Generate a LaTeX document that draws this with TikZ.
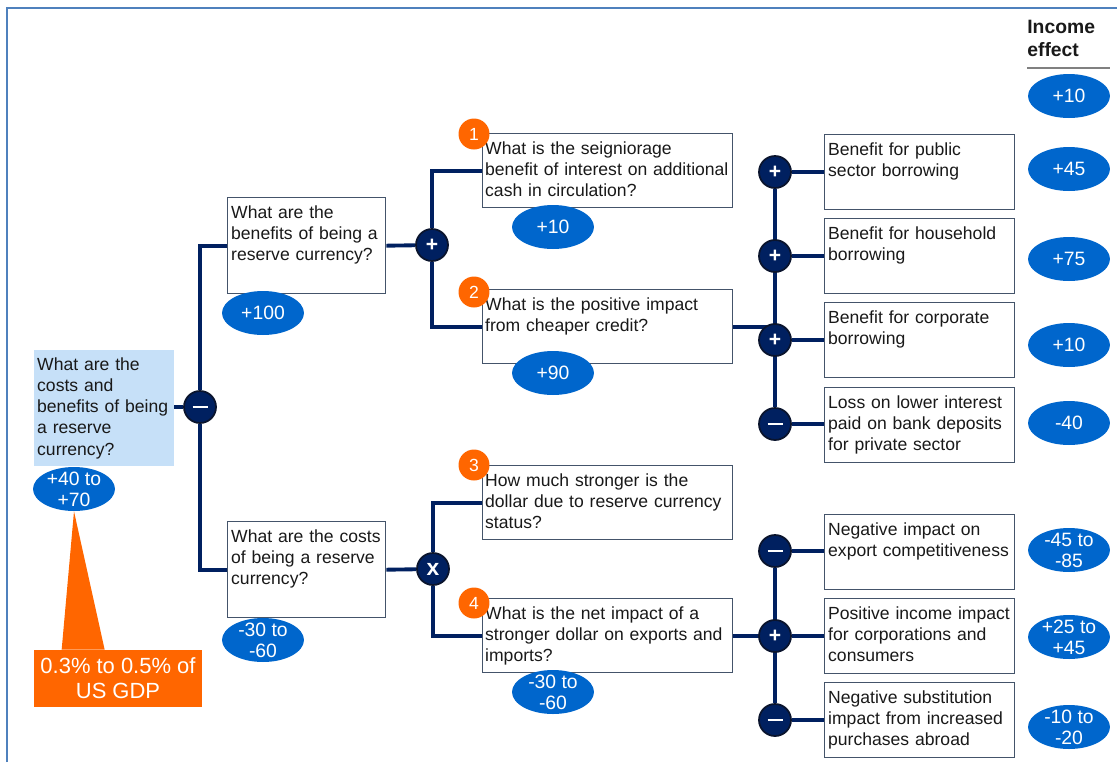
\documentclass[tikz,border=0pt]{standalone}
\usepackage{fontspec}
\setmainfont{Liberation Sans}
\usetikzlibrary{shapes.geometric, backgrounds, calc}

\definecolor{navy}{RGB}{0,32,96}
\definecolor{opline}{RGB}{10,20,45}
\definecolor{boxline}{RGB}{68,84,106}
\definecolor{valblue}{RGB}{0,102,204}
\definecolor{accent}{RGB}{255,102,0}
\definecolor{rootfill}{RGB}{198,224,248}
\definecolor{frameblue}{RGB}{79,129,189}
\definecolor{txt}{RGB}{25,25,25}

\newcommand{\opminus}{\rule[-0.6pt]{0.3cm}{1.3pt}}

\tikzset{
  qbox/.style={draw=boxline, line width=0.8pt, fill=white, anchor=north west,
    align=left, text=txt, font=\fontsize{10}{12}\selectfont,
    inner xsep=0.07cm, inner ysep=0.12cm, text height=0.3cm},
  rootbox/.style={qbox, draw=none, fill=rootfill, text width=2.66cm, text depth=1.78cm},
  leftbox/.style={qbox, text width=3.02cm, text depth=1.38cm},
  midbox/.style={qbox, inner xsep=0.05cm, text width=4.9cm, text depth=0.94cm},
  rightbox/.style={qbox, text width=3.66cm, text depth=0.96cm},
  op/.style={circle, fill=navy, draw=opline, line width=1pt, minimum size=0.64cm,
    inner sep=0pt, text=white, font=\bfseries\fontsize{12}{12}\selectfont},
  num/.style={circle, fill=accent, minimum size=0.62cm, inner sep=0pt,
    text=white, font=\fontsize{10}{10}\selectfont},
  val/.style={ellipse, fill=valblue, minimum width=1.64cm, minimum height=0.88cm, inner sep=0pt},
  valtext/.style={text=white, font=\fontsize{11}{12}\selectfont, align=center, inner sep=0pt},
  link/.style={draw=navy, line width=2.2pt},
  gdpbox/.style={fill=accent, text=white, font=\fontsize{12.5}{14.2}\selectfont, align=center,
    minimum width=3.36cm, minimum height=1.14cm, inner sep=0pt},
  hdr/.style={anchor=north west, align=left, inner sep=0pt, text=txt,
    font=\bfseries\fontsize{11}{13}\selectfont}
}

\begin{document}
\begin{tikzpicture}[x=0.02cm, y=-0.02cm]
  \useasboundingbox (0,0) rectangle (1117,762);
  % frame
  \draw[frameblue, line width=1.2pt] (7,762) -- (7,8) -- (1117,8);

  % income effect column
  \node[hdr] (hdr) at (1027,20) {Income\\effect};
  \draw[gray, line width=1.2pt] (1027,68) -- (1110,68);
  \node[val, label={[valtext]center:+10}] (vh) at (1069,96) {};

  % root
  \node[rootbox] (root) at (33,349) {What are the\\costs and\\benefits of being\\a reserve\\currency?};
  \node[op] (m0) at (200,407) {\opminus};
  \node[val, label={[valtext]center:{+40 to\\+70}}] (vroot) at (74,489) {};
  \node[gdpbox] (gdp) at (118,678.5) {0.3\% to 0.5\% of\\US GDP};
  \fill[accent] ($(gdp.north west)+(28,0)$) -- (vroot.south) -- ($(gdp.north west)+(71,0)$) -- cycle;

  % benefits / costs
  \node[leftbox] (ben) at (227,197) {What are the\\benefits of being a\\reserve currency?};
  \node[leftbox] (cost) at (227,521) {What are the costs\\of being a reserve\\currency?};
  \node[val, label={[valtext]center:+100}] (vben) at (263,313) {};
  \node[val, label={[valtext]center:{-30 to\\-60}}] (vcost) at (263,640) {};
  \node[op] (p1) at (432,245) {+};
  \node[op, font=\bfseries\fontsize{13}{13}\selectfont] (x1) at (433,569) {x};

  % questions
  \node[midbox] (q1) at (482,133) {What is the seigniorage\\\mbox{benefit of interest on additional}\\cash in circulation?};
  \node[midbox] (q2) at (482,289) {What is the positive impact\\from cheaper credit?};
  \node[midbox] (q3) at (482,465) {How much stronger is the\\dollar due to reserve currency\\status?};
  \node[midbox] (q4) at (482,598) {What is the net impact of a\\stronger dollar on exports and\\imports?};
  \node[num] (n1) at (474,134) {1};
  \node[num] (n2) at (474,292) {2};
  \node[num] (n3) at (474,465) {3};
  \node[num] (n4) at (474,603) {4};
  \node[val, label={[valtext]center:+10}] (vq1) at (553,227) {};
  \node[val, label={[valtext]center:+90}] (vq2) at (553,373) {};
  \node[val, label={[valtext]center:{-30 to\\-60}}] (vq4) at (553,692) {};

  % drivers
  \node[rightbox] (a1) at (824,134) {Benefit for public\\sector borrowing};
  \node[rightbox] (a2) at (824,218) {Benefit for household\\borrowing};
  \node[rightbox] (a3) at (824,302) {Benefit for corporate\\borrowing};
  \node[rightbox] (a4) at (824,387) {Loss on lower interest\\paid on bank deposits\\for private sector};
  \node[rightbox] (a5) at (824,514) {Negative impact on\\export competitiveness};
  \node[rightbox] (a6) at (824,598) {Positive income impact\\for corporations and\\consumers};
  \node[rightbox] (a7) at (824,682) {Negative substitution\\impact from increased\\purchases abroad};
  \node[op] (r1) at (775,172) {+};
  \node[op] (r2) at (775,256) {+};
  \node[op] (r3) at (775,340) {+};
  \node[op] (r4) at (775,424) {\opminus};
  \node[op] (r5) at (775,551) {\opminus};
  \node[op] (r6) at (775,636) {+};
  \node[op] (r7) at (775,720) {\opminus};
  \node[val, label={[valtext]center:+45}] (v1) at (1069,169) {};
  \node[val, label={[valtext]center:+75}] (v2) at (1069,259) {};
  \node[val, label={[valtext]center:+10}] (v3) at (1069,345) {};
  \node[val, label={[valtext]center:-40}] (v4) at (1069,423) {};
  \node[val, label={[valtext]center:{-45 to\\-85}}] (v5) at (1069,550) {};
  \node[val, label={[valtext]center:{+25 to\\+45}}] (v6) at (1069,637) {};
  \node[val, label={[valtext]center:{-10 to\\-20}}] (v7) at (1069,727) {};

  % tree lines
  \begin{scope}[on background layer]
    \draw[link] (root.east |- m0) -- (m0);
    \draw[link] (ben.west) -| (m0) |- (cost.west);
    \draw[link] (ben.east) -- (p1);
    \draw[link] (cost.east) -- (x1);
    \draw[link] (q1.west) -| (p1) |- (q2.west);
    \draw[link] (q3.west) -| (x1) |- (q4.west);
    \draw[link] (r1) -- (r4);
    \draw[link] (r5) -- (r7);
    \draw[link] (q2.east) -- (q2.east -| r3);
    \draw[link] (q4.east) -- (q4.east -| r6);
    \foreach \i in {1,...,7}
      \draw[link] (r\i) -- (r\i -| a\i.west);
  \end{scope}
\end{tikzpicture}
\end{document}
